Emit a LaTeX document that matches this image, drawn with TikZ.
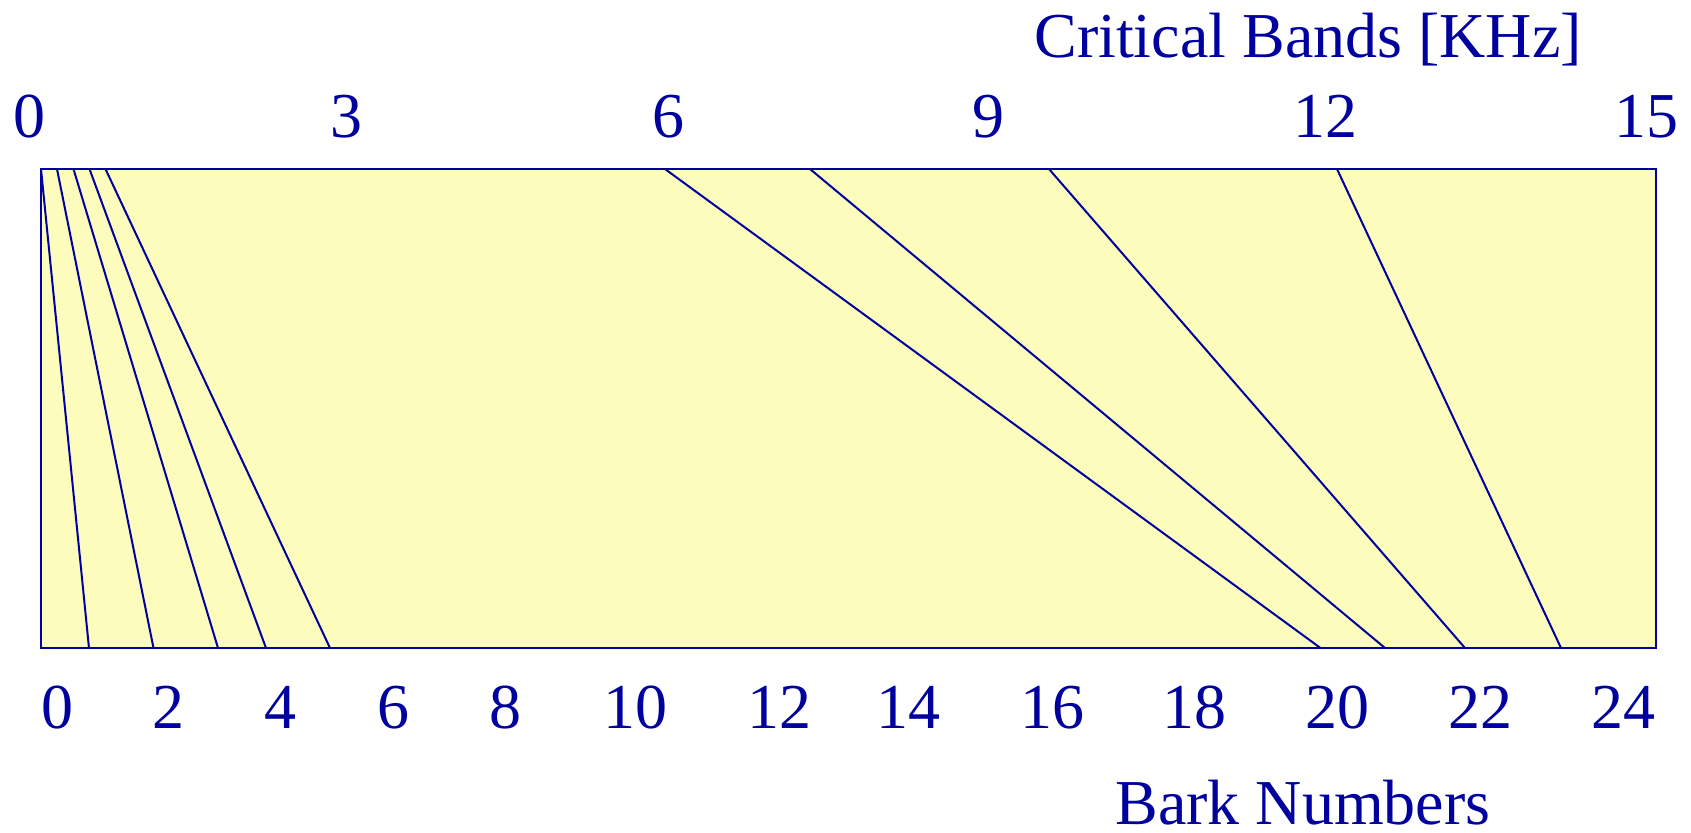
\documentclass[tikz,border=0pt]{standalone}
\usepackage{fontspec}
\setmainfont{Liberation Serif}
\definecolor{ink}{RGB}{0,0,158}
\definecolor{paper}{RGB}{252,252,188}
\begin{document}
\begin{tikzpicture}[x=0.5pt,y=-0.5pt,
  lbl/.style={text=ink,font=\fontsize{32pt}{38pt}\selectfont,inner sep=0pt,anchor=base},
  ttl/.style={lbl,anchor=base west},
  band/.style={draw=ink,line width=1pt},
  frame/.style={draw=ink,fill=paper,line width=1.2pt}]
\useasboundingbox (0,0) rectangle (1691,832);
% frame
\coordinate (TL) at (41,169);
\coordinate (BR) at (1656,648);
\draw[frame] (TL) rectangle (BR);
% top ends
\coordinate (t1) at (41,169);
\coordinate (t2) at (57,169);
\coordinate (t3) at (73.5,169);
\coordinate (t4) at (89.5,169);
\coordinate (t5) at (105.5,169);
\coordinate (t6) at (665,169);
\coordinate (t7) at (810,169);
\coordinate (t8) at (1049,169);
\coordinate (t9) at (1337,169);
% bottom ends
\coordinate (b1) at (89,648);
\coordinate (b2) at (153.5,648);
\coordinate (b3) at (218,648);
\coordinate (b4) at (266,648);
\coordinate (b5) at (330,648);
\coordinate (b6) at (1320.5,648);
\coordinate (b7) at (1385,648);
\coordinate (b8) at (1465,648);
\coordinate (b9) at (1561,648);
\foreach \i in {1,...,9} \draw[band] (t\i) -- (b\i);
% top labels
\node[lbl] (k0) at (29,137) {0};
\node[lbl] (k3) at (346,137) {3};
\node[lbl] (k6) at (668,137) {6};
\node[lbl] (k9) at (988,137) {9};
\node[lbl] (k12) at (1325,137) {12};
\node[lbl] (k15) at (1646,137) {15};
\node[ttl] (cb) at (1034,57) {Critical Bands [KHz]};
% bottom labels
\node[lbl] (n0) at (57,728) {0};
\node[lbl] (n2) at (168,728) {2};
\node[lbl] (n4) at (280,728) {4};
\node[lbl] (n6) at (393,728) {6};
\node[lbl] (n8) at (505,728) {8};
\node[lbl] (n10) at (635,728) {10};
\node[lbl] (n12) at (779.5,728) {12};
\node[lbl] (n14) at (908,728) {14};
\node[lbl] (n16) at (1052,728) {16};
\node[lbl] (n18) at (1194.5,728) {18};
\node[lbl] (n20) at (1337,728) {20};
\node[lbl] (n22) at (1480,728) {22};
\node[lbl] (n24) at (1623,728) {24};
\node[ttl] (bn) at (1115,824) {Bark Numbers};
\end{tikzpicture}
\end{document}
